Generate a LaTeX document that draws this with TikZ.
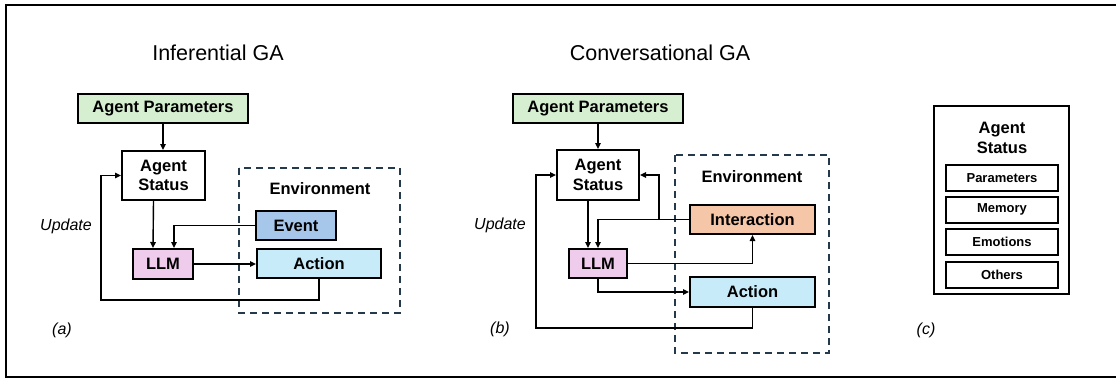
\documentclass[tikz,border=0pt]{standalone}
\usepackage{fontspec}
\setmainfont{Liberation Sans}
\usetikzlibrary{arrows.meta}

\definecolor{paramgreen}{HTML}{D6EFD1}
\definecolor{eventblue}{HTML}{A6C7EA}
\definecolor{actionblue}{HTML}{C8EBFA}
\definecolor{llmpink}{HTML}{F0CCEC}
\definecolor{interorange}{HTML}{F6C6A9}
\definecolor{envslate}{HTML}{243A4C}

\tikzset{
  box/.style={draw=black, line width=2pt, inner sep=0pt, align=center,
    font=\fontsize{16.5}{19.8}\selectfont\bfseries},
  smallbox/.style={draw=black, line width=2pt, inner sep=0pt,
    minimum width=112pt, minimum height=26pt,
    font=\fontsize{13}{15}\selectfont\bfseries},
  envbox/.style={draw=envslate, line width=1.8pt, dash pattern=on 7pt off 5pt},
  arr/.style={draw=black, line width=1.4pt, -{Triangle[length=6pt,width=5.5pt]}},
  title/.style={font=\fontsize{21.5}{25}\selectfont},
  lab/.style={font=\fontsize{16.5}{19.8}\selectfont\bfseries},
  note/.style={font=\fontsize{16}{19}\selectfont\itshape},
}

\begin{document}
\begin{tikzpicture}[x=1pt, y=-1pt]
\useasboundingbox (0,0) rectangle (1116,378);
% outer frame
\draw[line width=2pt] (1122,5) -- (6,5) -- (6,377) -- (1122,377);

% ---------------- (a) Inferential GA ----------------
\node[title] (titleA) at (218,53) {Inferential GA};
\draw[envbox] (239,168) rectangle (400,313);
\node[lab] (envA) at (320,189) {Environment};
\node[box, fill=paramgreen, minimum width=170pt, minimum height=29pt] (apA) at (163,108.5) {Agent Parameters};
\node[box, fill=white, minimum width=83pt, minimum height=49pt] (asA) at (163.5,175.5) {Agent\\Status};
\node[box, fill=llmpink, minimum width=60pt, minimum height=30pt] (llmA) at (163,264) {LLM};
\node[box, fill=eventblue, minimum width=80pt, minimum height=29pt] (evA) at (296,225.5) {Event};
\node[box, fill=actionblue, minimum width=124pt, minimum height=29pt] (acA) at (319,263.5) {Action};
\node[note] (updA) at (66,226) {Update};
\node[note] (capA) at (62,330) {(a)};

\draw[arr] (apA.south) -- (apA.south |- asA.north);
\draw[arr] ([xshift=-10pt]asA.south) -- ([xshift=-10pt]llmA.north);
\draw[arr] (evA.west) -| ([xshift=11pt]llmA.north);
\draw[arr] (llmA.east) -- (acA.west |- llmA.east);
\coordinate (loopA) at (101,300);
\draw[arr] (acA.south) |- (loopA) |- (asA.west);

% ---------------- (b) Conversational GA ----------------
\node[title] (titleB) at (660,53) {Conversational GA};
\draw[envbox] (675,155) rectangle (829,353);
\node[lab] (envB) at (752,177) {Environment};
\node[box, fill=paramgreen, minimum width=170pt, minimum height=29pt] (apB) at (598,108.5) {Agent Parameters};
\node[box, fill=white, minimum width=82pt, minimum height=50pt] (asB) at (598,175) {Agent\\Status};
\node[box, fill=llmpink, minimum width=58pt, minimum height=29pt] (llmB) at (598,263.5) {LLM};
\node[box, fill=interorange, minimum width=125pt, minimum height=29pt] (intB) at (752.5,219.5) {Interaction};
\node[box, fill=actionblue, minimum width=125pt, minimum height=30pt] (acB) at (752.5,292) {Action};
\node[note] (updB) at (500,225) {Update};
\node[note] (capB) at (500,329) {(b)};

\draw[arr] (apB.south) -- (asB.north);
\draw[arr] ([xshift=-10pt]asB.south) -- ([xshift=-10pt]llmB.north);
\draw[arr] (intB.west) -| (llmB.north);
\coordinate (brB) at (659,219.5);
\draw[arr] (brB) |- (asB.east);
\draw[arr] (llmB.east) -| (intB.south);
\draw[arr] (llmB.south) |- (acB.west);
\coordinate (loopB) at (536,328);
\draw[arr] (acB.south) |- (loopB) |- (asB.west);

% ---------------- (c) Agent Status ----------------
\node[draw=black, line width=2pt, minimum width=135pt, minimum height=188pt, inner sep=0pt] (asC) at (1001.5,200) {};
\node[lab, align=center] (asCtitle) at (1002,138) {Agent\\Status};
\node[smallbox] (parC) at (1002,178) {Parameters};
\node[smallbox] (memC) at (1002,209.5) {Memory};
\node[smallbox] (emoC) at (1002,242) {Emotions};
\node[smallbox] (othC) at (1002,274.5) {Others};
\node[note] (capC) at (926,330) {(c)};
\end{tikzpicture}
\end{document}
